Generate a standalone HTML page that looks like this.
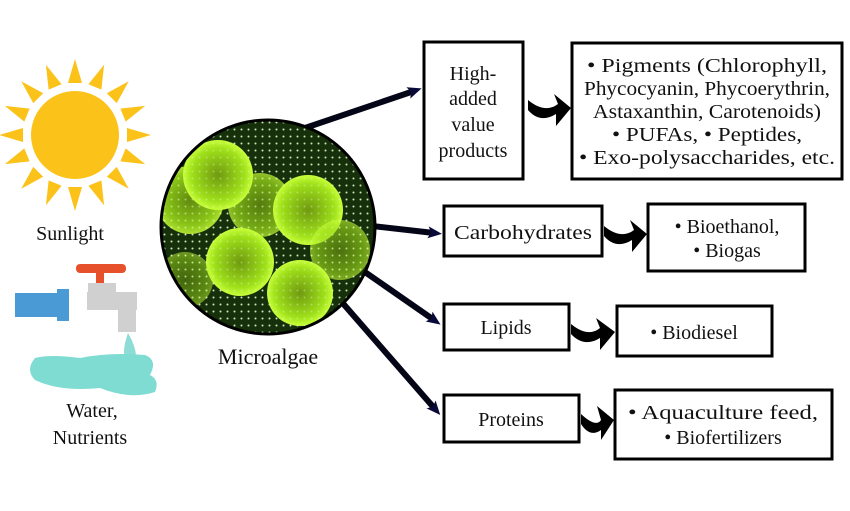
<!DOCTYPE html>
<html><head><style>
body{margin:0;background:#fff;}
svg text{font-family:"Liberation Serif",serif;fill:#111;}
</style></head><body>
<svg width="850" height="506" viewBox="0 0 850 506" xmlns="http://www.w3.org/2000/svg">
<defs>
<radialGradient id="cell" cx="50%" cy="50%" r="50%">
<stop offset="0" stop-color="#6f9a10"/><stop offset="0.75" stop-color="#9fe01a"/><stop offset="1" stop-color="#c8ff3a"/>
</radialGradient>
<pattern id="dots" width="7" height="7" patternUnits="userSpaceOnUse"><circle cx="3.5" cy="3.5" r="1" fill="#e8ffd0"/></pattern>
<clipPath id="cc"><circle cx="268" cy="227" r="106"/></clipPath>
<marker id="ah" markerWidth="16" markerHeight="14" refX="6" refY="7" orient="auto" markerUnits="userSpaceOnUse"><path d="M0,1 L14,7 L0,13 L3,7 z" fill="#0a0a3a"/></marker>
</defs>
<!-- sun -->
<g fill="#fbc21a">
<g transform="translate(75,135)">
<g id="ray"><polygon points="-7,-52 7,-52 0,-76"/></g>
<use href="#ray" transform="rotate(22.5)"/><use href="#ray" transform="rotate(45)"/><use href="#ray" transform="rotate(67.5)"/>
<use href="#ray" transform="rotate(90)"/><use href="#ray" transform="rotate(112.5)"/><use href="#ray" transform="rotate(135)"/>
<use href="#ray" transform="rotate(157.5)"/><use href="#ray" transform="rotate(180)"/><use href="#ray" transform="rotate(202.5)"/>
<use href="#ray" transform="rotate(225)"/><use href="#ray" transform="rotate(247.5)"/><use href="#ray" transform="rotate(270)"/>
<use href="#ray" transform="rotate(292.5)"/><use href="#ray" transform="rotate(315)"/><use href="#ray" transform="rotate(337.5)"/>
<circle r="44" fill="#fbc21a"/>
</g></g>
<text x="70" y="240" font-size="20" text-anchor="middle">Sunlight</text>
<!-- faucet -->
<rect x="76" y="264" width="50" height="9" rx="4" fill="#e6502a"/>
<rect x="96" y="270" width="8" height="14" fill="#e6502a"/>
<rect x="87" y="292" width="50" height="18" fill="#d0d0d0"/>
<rect x="88" y="283" width="28" height="12" fill="#d0d0d0"/>
<rect x="118" y="300" width="18" height="32" fill="#d0d0d0"/>
<rect x="15" y="293" width="45" height="24" fill="#4a9ad6"/>
<rect x="57" y="289" width="12" height="32" fill="#4a9ad6"/>
<path d="M128,333 Q122,350 125,358 Q132,362 136,355 Q135,345 128,333z" fill="#8ddcd6"/>
<path d="M35,358 Q25,370 35,380 Q60,392 100,388 Q130,400 155,392 Q160,380 150,375 Q158,360 145,355 Q110,352 80,358 Q50,354 35,358z" fill="#7fdcd2"/>
<text x="92" y="417" font-size="20" text-anchor="middle">Water,</text>
<text x="90" y="444" font-size="20" text-anchor="middle">Nutrients</text>
<!-- arrows from circle -->
<g stroke="#050518" stroke-width="6" fill="none" marker-end="url(#ah)">
<line x1="305" y1="128" x2="414" y2="91"/>
<line x1="372" y1="226" x2="434" y2="233"/>
<line x1="362" y1="270" x2="434" y2="320"/>
<line x1="340" y1="300" x2="435" y2="409"/>
</g>
<!-- microalgae circle -->
<circle cx="268" cy="227" r="108" fill="#0b1a05"/>
<g clip-path="url(#cc)">
<rect x="160" y="118" width="220" height="220" fill="#15300a"/>
<rect x="160" y="118" width="220" height="220" fill="url(#dots)" opacity="0.8"/>
<circle cx="190" cy="200" r="34" fill="url(#cell)" opacity="0.85"/>
<circle cx="260" cy="205" r="32" fill="url(#cell)" opacity="0.7"/>
<circle cx="218" cy="175" r="35" fill="url(#cell)"/>
<circle cx="308" cy="210" r="35" fill="url(#cell)"/>
<circle cx="340" cy="250" r="30" fill="url(#cell)" opacity="0.6"/>
<circle cx="240" cy="262" r="34" fill="url(#cell)"/>
<circle cx="300" cy="293" r="33" fill="url(#cell)"/>
<circle cx="185" cy="280" r="28" fill="url(#cell)" opacity="0.5"/>
<rect x="160" y="118" width="220" height="220" fill="url(#dots)" opacity="0.35"/>
</g>
<circle cx="268" cy="227" r="107" fill="none" stroke="#000" stroke-width="3"/>
<text x="268" y="364" font-size="22" text-anchor="middle">Microalgae</text>
<!-- boxes -->
<g fill="#fff" stroke="#000" stroke-width="3">
<rect x="424" y="42" width="99" height="137"/>
<rect x="572" y="43" width="270" height="136"/>
<rect x="444" y="206" width="158" height="50"/>
<rect x="648" y="204" width="157" height="67"/>
<rect x="444" y="304" width="125" height="46"/>
<rect x="617" y="306" width="155" height="50"/>
<rect x="444" y="395" width="135" height="47"/>
<rect x="615" y="390" width="217" height="69"/>
</g>
<g font-size="20" text-anchor="middle">
<text x="473" y="80">High-</text><text x="473" y="105">added</text><text x="473" y="131">value</text><text x="473" y="157">products</text>
<text x="707" y="72" textLength="240" lengthAdjust="spacingAndGlyphs">• Pigments (Chlorophyll,</text>
<text x="707" y="95" textLength="246" lengthAdjust="spacingAndGlyphs">Phycocyanin, Phycoerythrin,</text>
<text x="707" y="118" textLength="228" lengthAdjust="spacingAndGlyphs">Astaxanthin, Carotenoids)</text>
<text x="707" y="141" textLength="190" lengthAdjust="spacingAndGlyphs">• PUFAs, • Peptides,</text>
<text x="707" y="164" textLength="256" lengthAdjust="spacingAndGlyphs">• Exo-polysaccharides,  etc.</text>
<text x="523" y="239" textLength="138" lengthAdjust="spacingAndGlyphs">Carbohydrates</text>
<text x="727" y="233">• Bioethanol,</text>
<text x="727" y="257">• Biogas</text>
<text x="506" y="334">Lipids</text>
<text x="694" y="339">• Biodiesel</text>
<text x="511" y="426">Proteins</text>
<text x="723" y="419" textLength="190" lengthAdjust="spacingAndGlyphs">• Aquaculture feed,</text>
<text x="723" y="444">• Biofertilizers</text>
</g>
<!-- curved arrows -->
<g fill="#000">
<path d="M528,100 Q545,114 558,104 L554,94 L571,108 L556,126 L556,114 Q540,124 528,110z"/>
<path d="M604,226 Q621,240 634,230 L630,220 L647,234 L632,252 L632,240 Q616,250 604,236z"/>
<path d="M571,324 Q588,338 600,328 L596,318 L615,332 L600,350 L600,338 Q584,348 571,334z"/>
<path d="M581,414 Q596,428 601,420 L597,406 L614,420 L601,440 L601,430 Q590,438 581,424z"/>
</g>
</svg>
</body></html>
